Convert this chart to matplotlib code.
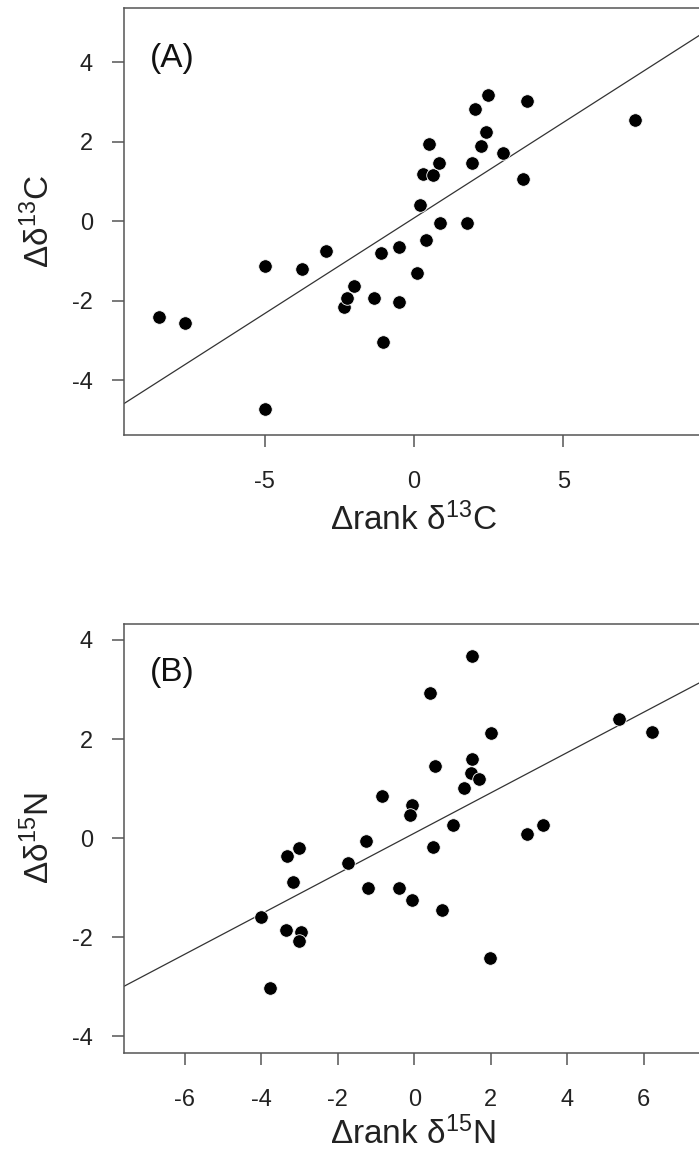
import matplotlib
matplotlib.use("Agg")
import matplotlib.pyplot as plt
import numpy as np

# ---- Data ----
# Panel A: delta rank d13C vs delta d13C
rank_c = [-8.53, -7.67, -4.99, -4.99, -3.76, -2.93, -2.33, -2.25, -2.02, -1.33,
          -1.09, -1.04, -0.49, -0.49, 0.09, 0.19, 0.29, 0.40, 0.49, 0.65,
          0.83, 0.87, 1.79, 1.96, 2.03, 2.25, 2.40, 2.49, 2.99, 3.66,
          3.80, 7.39]
delta_c = [-2.40, -2.55, -1.12, -4.72, -1.20, -0.74, -2.15, -1.92, -1.63, -1.94,
           -0.80, -3.03, -0.64, -2.04, -1.29, 0.40, 1.18, -0.46, 1.93, 1.16,
           1.46, -0.04, -0.04, 1.47, 2.82, 1.90, 2.23, 3.17, 1.72, 1.07,
           3.02, 2.55]
fit_c = {"intercept": 0.08, "slope": 0.48}

# Panel B: delta rank d15N vs delta d15N
rank_n = [1.50, 0.40, 2.00, 5.34, 6.21, 0.54, 1.50, 1.48, 1.68, 1.31,
          -0.84, -0.07, -0.10, 1.01, 2.94, 3.37, -1.26, 0.50, -3.02, -3.32,
          -1.72, -3.17, -1.22, -0.40, -0.05, 0.73, -4.01, -3.35, -2.97, -3.02,
          1.99, -3.76]
delta_n = [3.68, 2.92, 2.13, 2.40, 2.15, 1.46, 1.59, 1.31, 1.19, 1.01,
           0.86, 0.66, 0.47, 0.26, 0.09, 0.27, -0.05, -0.18, -0.20, -0.36,
           -0.50, -0.88, -1.01, -1.01, -1.25, -1.44, -1.60, -1.85, -1.90, -2.07,
           -2.41, -3.02]
fit_n = {"intercept": 0.10, "slope": 0.407}

xticks_a = [-5, 0, 5]
yticks_a = [-4, -2, 0, 2, 4]
xticks_b = [-6, -4, -2, 0, 2, 4, 6]
yticks_b = [-4, -2, 0, 2, 4]

# ---- Style ----
plt.rcParams["font.family"] = ["Liberation Sans", "DejaVu Sans"]
plt.rcParams["mathtext.fontset"] = "custom"
plt.rcParams["mathtext.rm"] = "Liberation Sans"
plt.rcParams["mathtext.it"] = "Liberation Sans:italic"
plt.rcParams["mathtext.bf"] = "Liberation Sans:bold"

W, H = 699, 1151
fig = plt.figure(figsize=(W / 100, H / 100), dpi=100)

spine_col = "#555555"
tick_fs = 17
label_fs = 24
panel_fs = 24


def px_axes(left, top, right, bottom):
    return [left / W, 1 - bottom / H, (right - left) / W, (bottom - top) / H]


def make_panel(rect, x, y, fit, xlim, ylim, xticks, yticks, xlabel, ylabel,
               tag, tag_y, xlab_y):
    ax = fig.add_axes(rect)
    ax.scatter(x, y, s=95, c="black", edgecolors="white", linewidths=0.6, zorder=3)
    ax.axline((0, fit["intercept"]), slope=fit["slope"], color="#333333", lw=0.9, zorder=2)
    ax.set_xlim(*xlim)
    ax.set_ylim(*ylim)
    ax.set_xticks(xticks)
    ax.set_yticks(yticks)
    ax.set_xticklabels([str(t) for t in xticks])
    ax.set_yticklabels([str(t) for t in yticks])
    for s in ax.spines.values():
        s.set_color(spine_col)
        s.set_linewidth(1.1)
    ax.tick_params(axis="both", direction="out", length=8.6, width=1.1,
                   color=spine_col, labelsize=tick_fs, labelcolor="#222222")
    ax.tick_params(axis="x", pad=17)
    ax.tick_params(axis="y", pad=14)
    ax.set_xlabel(xlabel, fontsize=label_fs, color="#222222")
    ax.set_ylabel(ylabel, fontsize=label_fs, color="#222222")
    ax.xaxis.label.set_va("baseline")
    ax.xaxis.set_label_coords(0.5, xlab_y)
    ax.yaxis.label.set_va("center")
    ax.yaxis.set_label_coords(-0.148, 0.5)
    ax.text(0.044, tag_y, tag, transform=ax.transAxes, fontsize=panel_fs,
            va="baseline", ha="left", color="#111111")
    return ax


make_panel(px_axes(124.3, 8.3, 702, 435), rank_c, delta_c, fit_c,
           (-9.70, 9.65), (-5.37, 5.35), xticks_a, yticks_a,
           "Δrank δ$^{\\mathrm{13}}$C", "Δδ$^{\\mathrm{13}}$C", "(A)", 0.862, -0.222)
make_panel(px_axes(124.3, 624, 702, 1053.3), rank_n, delta_n, fit_n,
           (-7.58, 7.52), (-4.34, 4.32), xticks_b, yticks_b,
           "Δrank δ$^{\\mathrm{15}}$N", "Δδ$^{\\mathrm{15}}$N", "(B)", 0.867, -0.212)

fig.savefig("out.png", dpi=100)
